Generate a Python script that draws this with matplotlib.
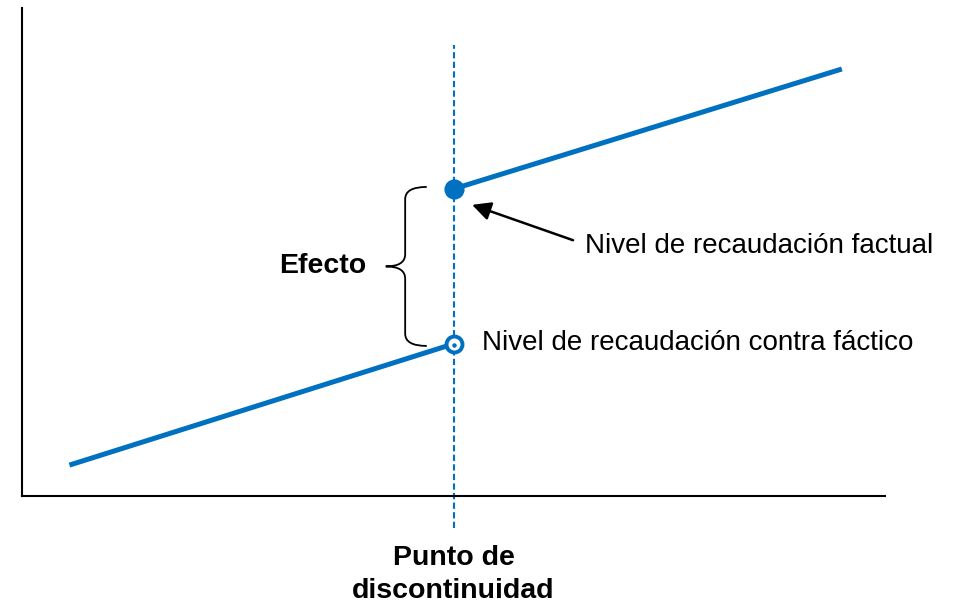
import matplotlib
matplotlib.use("Agg")
import matplotlib.pyplot as plt
from matplotlib.path import Path
from matplotlib.patches import PathPatch

plt.rcParams["font.family"] = ["Liberation Sans", "DejaVu Sans"]

BLUE = "#0070C0"

# conceptual RD diagram: revenue level vs running variable
cutoff = 10.0
x_before = [1.1, 10.0]
y_before = [0.76, 3.74]
x_after = [10.0, 19.0]
y_after = [7.55, 10.5]

lbl_factual = "Nivel de recaudación factual"
lbl_counter = "Nivel de recaudación contra fáctico"
lbl_effect = "Efecto"
lbl_cutoff = "Punto de\ndiscontinuidad"

fig = plt.figure(figsize=(9.63, 6.05), dpi=100)
ax = fig.add_axes([22 / 963, 109 / 605, 863 / 963, 488 / 605])
ax.set_xlim(0, 20)
ax.set_ylim(0, 12)

for s in ("top", "right"):
    ax.spines[s].set_visible(False)
for s in ("left", "bottom"):
    ax.spines[s].set_linewidth(1.5)
ax.set_xticks([]); ax.set_yticks([])

# cutoff line (runs past the axes)
ax.plot([cutoff, cutoff], [-0.79, 11.09], color=BLUE, ls=(0, (3, 1.6)), lw=1.5,
        clip_on=False, zorder=2)

ax.plot(x_before, y_before, color=BLUE, lw=3.6, solid_capstyle="butt", zorder=3)
ax.plot(x_after, y_after, color=BLUE, lw=3.6, solid_capstyle="butt", zorder=3)
ax.plot(x_after[0], y_after[0], "o", ms=13.5, color=BLUE, zorder=4)
ax.plot(x_before[-1], y_before[-1], "o", ms=11.5, mfc="white", mec=BLUE, mew=2.8, zorder=4)
ax.plot(x_before[-1] + 0.02, y_before[-1] - 0.03, "o", ms=2.2, color=BLUE, zorder=5)

# curly brace spanning the effect
top, bot = y_after[0] + 0.05, y_before[-1] - 0.05
mid = (top + bot) / 2
xr, xv, xt = cutoff - 0.62, cutoff - 1.12, cutoff - 1.57
r = 0.3
verts = [
    (xr, top), (xv, top), (xv, top - r),
    (xv, mid + r), (xv, mid), (xt, mid),
    (xv, mid), (xv, mid - r),
    (xv, bot + r), (xv, bot), (xr, bot),
]
codes = [Path.MOVETO, Path.CURVE3, Path.CURVE3,
         Path.LINETO, Path.CURVE3, Path.CURVE3,
         Path.CURVE3, Path.CURVE3,
         Path.LINETO, Path.CURVE3, Path.CURVE3]
ax.add_patch(PathPatch(Path(verts, codes), fill=False, lw=1.3, ec="black", zorder=3))

ax.text(xt - 0.45, mid, lbl_effect, ha="right", va="center", fontsize=20.5, fontweight="bold")

ax.annotate("", xy=(10.43, 7.16), xytext=(12.77, 6.29),
            arrowprops=dict(arrowstyle="-|>", color="black", lw=1.8, mutation_scale=28,
                            shrinkA=0, shrinkB=0))
ax.text(13.05, 6.15, lbl_factual, ha="left", va="center", fontsize=20)
ax.text(10.66, 3.76, lbl_counter, ha="left", va="center", fontsize=20)

ax.text(cutoff, -1.2, lbl_cutoff, ha="center", va="top", fontsize=20.5, fontweight="bold",
        linespacing=1.35, clip_on=False)

fig.savefig("out.png", dpi=100)
